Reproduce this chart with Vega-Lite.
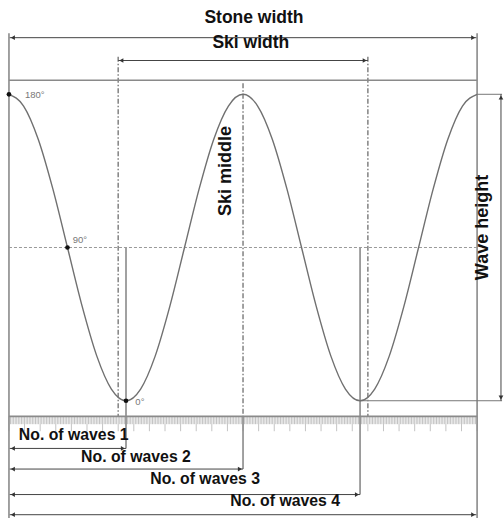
{
  "$schema": "https://vega.github.io/schema/vega-lite/v6.json",
  "width": 504,
  "height": 519,
  "autosize": {"type": "fit", "contains": "padding"},
  "padding": 0,
  "background": "white",
  "config": {"view": {"stroke": null}},
  "datasets": {
    "ruler": [
{"x":0,"y":-108,"y2":-117.5},{"x":1,"y":-108,"y2":-113},{"x":2,"y":-108,"y2":-113},{"x":3,"y":-108,"y2":-113},{"x":4,"y":-108,"y2":-113},{"x":5,"y":-108,"y2":-113},{"x":6,"y":-108,"y2":-113},{"x":7,"y":-108,"y2":-113},{"x":8,"y":-108,"y2":-113},{"x":9,"y":-108,"y2":-113},
{"x":10,"y":-108,"y2":-117.5},{"x":11,"y":-108,"y2":-113},{"x":12,"y":-108,"y2":-113},{"x":13,"y":-108,"y2":-113},{"x":14,"y":-108,"y2":-113},{"x":15,"y":-108,"y2":-113},{"x":16,"y":-108,"y2":-113},{"x":17,"y":-108,"y2":-113},{"x":18,"y":-108,"y2":-113},{"x":19,"y":-108,"y2":-113},
{"x":20,"y":-108,"y2":-117.5},{"x":21,"y":-108,"y2":-113},{"x":22,"y":-108,"y2":-113},{"x":23,"y":-108,"y2":-113},{"x":24,"y":-108,"y2":-113},{"x":25,"y":-108,"y2":-113},{"x":26,"y":-108,"y2":-113},{"x":27,"y":-108,"y2":-113},{"x":28,"y":-108,"y2":-113},{"x":29,"y":-108,"y2":-113},
{"x":30,"y":-108,"y2":-117.5},{"x":31,"y":-108,"y2":-113},{"x":32,"y":-108,"y2":-113},{"x":33,"y":-108,"y2":-113},{"x":34,"y":-108,"y2":-113},{"x":35,"y":-108,"y2":-113},{"x":36,"y":-108,"y2":-113},{"x":37,"y":-108,"y2":-113},{"x":38,"y":-108,"y2":-113},{"x":39,"y":-108,"y2":-113},
{"x":40,"y":-108,"y2":-117.5},{"x":41,"y":-108,"y2":-113},{"x":42,"y":-108,"y2":-113},{"x":43,"y":-108,"y2":-113},{"x":44,"y":-108,"y2":-113},{"x":45,"y":-108,"y2":-113},{"x":46,"y":-108,"y2":-113},{"x":47,"y":-108,"y2":-113},{"x":48,"y":-108,"y2":-113},{"x":49,"y":-108,"y2":-113},
{"x":50,"y":-108,"y2":-117.5},{"x":51,"y":-108,"y2":-113},{"x":52,"y":-108,"y2":-113},{"x":53,"y":-108,"y2":-113},{"x":54,"y":-108,"y2":-113},{"x":55,"y":-108,"y2":-113},{"x":56,"y":-108,"y2":-113},{"x":57,"y":-108,"y2":-113},{"x":58,"y":-108,"y2":-113},{"x":59,"y":-108,"y2":-113},
{"x":60,"y":-108,"y2":-117.5},{"x":61,"y":-108,"y2":-113},{"x":62,"y":-108,"y2":-113},{"x":63,"y":-108,"y2":-113},{"x":64,"y":-108,"y2":-113},{"x":65,"y":-108,"y2":-113},{"x":66,"y":-108,"y2":-113},{"x":67,"y":-108,"y2":-113},{"x":68,"y":-108,"y2":-113},{"x":69,"y":-108,"y2":-113},
{"x":70,"y":-108,"y2":-117.5},{"x":71,"y":-108,"y2":-113},{"x":72,"y":-108,"y2":-113},{"x":73,"y":-108,"y2":-113},{"x":74,"y":-108,"y2":-113},{"x":75,"y":-108,"y2":-113},{"x":76,"y":-108,"y2":-113},{"x":77,"y":-108,"y2":-113},{"x":78,"y":-108,"y2":-113},{"x":79,"y":-108,"y2":-113},
{"x":80,"y":-108,"y2":-117.5},{"x":81,"y":-108,"y2":-113},{"x":82,"y":-108,"y2":-113},{"x":83,"y":-108,"y2":-113},{"x":84,"y":-108,"y2":-113},{"x":85,"y":-108,"y2":-113},{"x":86,"y":-108,"y2":-113},{"x":87,"y":-108,"y2":-113},{"x":88,"y":-108,"y2":-113},{"x":89,"y":-108,"y2":-113},
{"x":90,"y":-108,"y2":-117.5},{"x":91,"y":-108,"y2":-113},{"x":92,"y":-108,"y2":-113},{"x":93,"y":-108,"y2":-113},{"x":94,"y":-108,"y2":-113},{"x":95,"y":-108,"y2":-113},{"x":96,"y":-108,"y2":-113},{"x":97,"y":-108,"y2":-113},{"x":98,"y":-108,"y2":-113},{"x":99,"y":-108,"y2":-113},
{"x":100,"y":-108,"y2":-117.5},{"x":101,"y":-108,"y2":-113},{"x":102,"y":-108,"y2":-113},{"x":103,"y":-108,"y2":-113},{"x":104,"y":-108,"y2":-113},{"x":105,"y":-108,"y2":-113},{"x":106,"y":-108,"y2":-113},{"x":107,"y":-108,"y2":-113},{"x":108,"y":-108,"y2":-113},{"x":109,"y":-108,"y2":-113},
{"x":110,"y":-108,"y2":-117.5},{"x":111,"y":-108,"y2":-113},{"x":112,"y":-108,"y2":-113},{"x":113,"y":-108,"y2":-113},{"x":114,"y":-108,"y2":-113},{"x":115,"y":-108,"y2":-113},{"x":116,"y":-108,"y2":-113},{"x":117,"y":-108,"y2":-113},{"x":118,"y":-108,"y2":-113},{"x":119,"y":-108,"y2":-113},
{"x":120,"y":-108,"y2":-117.5},{"x":121,"y":-108,"y2":-113},{"x":122,"y":-108,"y2":-113},{"x":123,"y":-108,"y2":-113},{"x":124,"y":-108,"y2":-113},{"x":125,"y":-108,"y2":-113},{"x":126,"y":-108,"y2":-113},{"x":127,"y":-108,"y2":-113},{"x":128,"y":-108,"y2":-113},{"x":129,"y":-108,"y2":-113},
{"x":130,"y":-108,"y2":-117.5},{"x":131,"y":-108,"y2":-113},{"x":132,"y":-108,"y2":-113},{"x":133,"y":-108,"y2":-113},{"x":134,"y":-108,"y2":-113},{"x":135,"y":-108,"y2":-113},{"x":136,"y":-108,"y2":-113},{"x":137,"y":-108,"y2":-113},{"x":138,"y":-108,"y2":-113},{"x":139,"y":-108,"y2":-113},
{"x":140,"y":-108,"y2":-117.5},{"x":141,"y":-108,"y2":-113},{"x":142,"y":-108,"y2":-113},{"x":143,"y":-108,"y2":-113},{"x":144,"y":-108,"y2":-113},{"x":145,"y":-108,"y2":-113},{"x":146,"y":-108,"y2":-113},{"x":147,"y":-108,"y2":-113},{"x":148,"y":-108,"y2":-113},{"x":149,"y":-108,"y2":-113},
{"x":150,"y":-108,"y2":-117.5},{"x":151,"y":-108,"y2":-113},{"x":152,"y":-108,"y2":-113},{"x":153,"y":-108,"y2":-113},{"x":154,"y":-108,"y2":-113},{"x":155,"y":-108,"y2":-113},{"x":156,"y":-108,"y2":-113},{"x":157,"y":-108,"y2":-113},{"x":158,"y":-108,"y2":-113},{"x":159,"y":-108,"y2":-113},
{"x":160,"y":-108,"y2":-117.5},{"x":161,"y":-108,"y2":-113},{"x":162,"y":-108,"y2":-113},{"x":163,"y":-108,"y2":-113},{"x":164,"y":-108,"y2":-113},{"x":165,"y":-108,"y2":-113},{"x":166,"y":-108,"y2":-113},{"x":167,"y":-108,"y2":-113},{"x":168,"y":-108,"y2":-113},{"x":169,"y":-108,"y2":-113},
{"x":170,"y":-108,"y2":-117.5},{"x":171,"y":-108,"y2":-113},{"x":172,"y":-108,"y2":-113},{"x":173,"y":-108,"y2":-113},{"x":174,"y":-108,"y2":-113},{"x":175,"y":-108,"y2":-113},{"x":176,"y":-108,"y2":-113},{"x":177,"y":-108,"y2":-113},{"x":178,"y":-108,"y2":-113},{"x":179,"y":-108,"y2":-113},
{"x":180,"y":-108,"y2":-117.5},{"x":181,"y":-108,"y2":-113},{"x":182,"y":-108,"y2":-113},{"x":183,"y":-108,"y2":-113},{"x":184,"y":-108,"y2":-113},{"x":185,"y":-108,"y2":-113},{"x":186,"y":-108,"y2":-113},{"x":187,"y":-108,"y2":-113},{"x":188,"y":-108,"y2":-113},{"x":189,"y":-108,"y2":-113},
{"x":190,"y":-108,"y2":-117.5},{"x":191,"y":-108,"y2":-113},{"x":192,"y":-108,"y2":-113},{"x":193,"y":-108,"y2":-113},{"x":194,"y":-108,"y2":-113},{"x":195,"y":-108,"y2":-113},{"x":196,"y":-108,"y2":-113},{"x":197,"y":-108,"y2":-113},{"x":198,"y":-108,"y2":-113},{"x":199,"y":-108,"y2":-113},
{"x":200,"y":-108,"y2":-117.5},{"x":201,"y":-108,"y2":-113},{"x":202,"y":-108,"y2":-113},{"x":203,"y":-108,"y2":-113},{"x":204,"y":-108,"y2":-113},{"x":205,"y":-108,"y2":-113},{"x":206,"y":-108,"y2":-113},{"x":207,"y":-108,"y2":-113},{"x":208,"y":-108,"y2":-113},{"x":209,"y":-108,"y2":-113},
{"x":210,"y":-108,"y2":-117.5},{"x":211,"y":-108,"y2":-113},{"x":212,"y":-108,"y2":-113},{"x":213,"y":-108,"y2":-113},{"x":214,"y":-108,"y2":-113},{"x":215,"y":-108,"y2":-113},{"x":216,"y":-108,"y2":-113},{"x":217,"y":-108,"y2":-113},{"x":218,"y":-108,"y2":-113},{"x":219,"y":-108,"y2":-113},
{"x":220,"y":-108,"y2":-117.5},{"x":221,"y":-108,"y2":-113},{"x":222,"y":-108,"y2":-113},{"x":223,"y":-108,"y2":-113},{"x":224,"y":-108,"y2":-113},{"x":225,"y":-108,"y2":-113},{"x":226,"y":-108,"y2":-113},{"x":227,"y":-108,"y2":-113},{"x":228,"y":-108,"y2":-113},{"x":229,"y":-108,"y2":-113},
{"x":230,"y":-108,"y2":-117.5},{"x":231,"y":-108,"y2":-113},{"x":232,"y":-108,"y2":-113},{"x":233,"y":-108,"y2":-113},{"x":234,"y":-108,"y2":-113},{"x":235,"y":-108,"y2":-113},{"x":236,"y":-108,"y2":-113},{"x":237,"y":-108,"y2":-113},{"x":238,"y":-108,"y2":-113},{"x":239,"y":-108,"y2":-113},
{"x":240,"y":-108,"y2":-117.5},{"x":241,"y":-108,"y2":-113},{"x":242,"y":-108,"y2":-113},{"x":243,"y":-108,"y2":-113},{"x":244,"y":-108,"y2":-113},{"x":245,"y":-108,"y2":-113},{"x":246,"y":-108,"y2":-113},{"x":247,"y":-108,"y2":-113},{"x":248,"y":-108,"y2":-113},{"x":249,"y":-108,"y2":-113},
{"x":250,"y":-108,"y2":-117.5},{"x":251,"y":-108,"y2":-113},{"x":252,"y":-108,"y2":-113},{"x":253,"y":-108,"y2":-113},{"x":254,"y":-108,"y2":-113},{"x":255,"y":-108,"y2":-113},{"x":256,"y":-108,"y2":-113},{"x":257,"y":-108,"y2":-113},{"x":258,"y":-108,"y2":-113},{"x":259,"y":-108,"y2":-113},
{"x":260,"y":-108,"y2":-117.5},{"x":261,"y":-108,"y2":-113},{"x":262,"y":-108,"y2":-113},{"x":263,"y":-108,"y2":-113},{"x":264,"y":-108,"y2":-113},{"x":265,"y":-108,"y2":-113},{"x":266,"y":-108,"y2":-113},{"x":267,"y":-108,"y2":-113},{"x":268,"y":-108,"y2":-113},{"x":269,"y":-108,"y2":-113},
{"x":270,"y":-108,"y2":-117.5},{"x":271,"y":-108,"y2":-113},{"x":272,"y":-108,"y2":-113},{"x":273,"y":-108,"y2":-113},{"x":274,"y":-108,"y2":-113},{"x":275,"y":-108,"y2":-113},{"x":276,"y":-108,"y2":-113},{"x":277,"y":-108,"y2":-113},{"x":278,"y":-108,"y2":-113},{"x":279,"y":-108,"y2":-113},
{"x":280,"y":-108,"y2":-117.5},{"x":281,"y":-108,"y2":-113},{"x":282,"y":-108,"y2":-113},{"x":283,"y":-108,"y2":-113},{"x":284,"y":-108,"y2":-113},{"x":285,"y":-108,"y2":-113},{"x":286,"y":-108,"y2":-113},{"x":287,"y":-108,"y2":-113},{"x":288,"y":-108,"y2":-113},{"x":289,"y":-108,"y2":-113},
{"x":290,"y":-108,"y2":-117.5},{"x":291,"y":-108,"y2":-113},{"x":292,"y":-108,"y2":-113},{"x":293,"y":-108,"y2":-113},{"x":294,"y":-108,"y2":-113},{"x":295,"y":-108,"y2":-113},{"x":296,"y":-108,"y2":-113},{"x":297,"y":-108,"y2":-113},{"x":298,"y":-108,"y2":-113},{"x":299,"y":-108,"y2":-113},
{"x":300,"y":-108,"y2":-117.5}
    ],
    "wave": [
      {"x": 0, "y": 98}, {"x": 9.375, "y": 90.5}, {"x": 18.75, "y": 69.3}, {"x": 28.125, "y": 37.5},
      {"x": 37.5, "y": 0}, {"x": 46.875, "y": -37.5}, {"x": 56.25, "y": -69.3}, {"x": 65.625, "y": -90.5},
      {"x": 75, "y": -98}, {"x": 84.375, "y": -90.5}, {"x": 93.75, "y": -69.3}, {"x": 103.125, "y": -37.5},
      {"x": 112.5, "y": 0}, {"x": 121.875, "y": 37.5}, {"x": 131.25, "y": 69.3}, {"x": 140.625, "y": 90.5},
      {"x": 150, "y": 98}, {"x": 159.375, "y": 90.5}, {"x": 168.75, "y": 69.3}, {"x": 178.125, "y": 37.5},
      {"x": 187.5, "y": 0}, {"x": 196.875, "y": -37.5}, {"x": 206.25, "y": -69.3}, {"x": 215.625, "y": -90.5},
      {"x": 225, "y": -98}, {"x": 234.375, "y": -90.5}, {"x": 243.75, "y": -69.3}, {"x": 253.125, "y": -37.5},
      {"x": 262.5, "y": 0}, {"x": 271.875, "y": 37.5}, {"x": 281.25, "y": 69.3}, {"x": 290.625, "y": 90.5},
      {"x": 300, "y": 98}
    ],
    "lines": [
      {"kind": "edge", "x": 0, "x2": 0, "y": 137, "y2": -173},
      {"kind": "edge", "x": 300, "x2": 300, "y": 137, "y2": -173},
      {"kind": "edge", "x": 0, "x2": 300, "y": 107, "y2": 107},
      {"kind": "edge", "x": 0, "x2": 300, "y": -108, "y2": -108},
      {"kind": "edge", "x": 75, "x2": 75, "y": 0, "y2": -128.5},
      {"kind": "edge", "x": 150, "x2": 150, "y": -108, "y2": -141.7},
      {"kind": "edge", "x": 225, "x2": 225, "y": 0, "y2": -158},
      {"kind": "guide", "x": 300, "x2": 316, "y": 98, "y2": 98},
      {"kind": "guide", "x": 225, "x2": 316, "y": -98, "y2": -98},
      {"kind": "dashdot", "x": 70, "x2": 70, "y": 122, "y2": -108},
      {"kind": "dashdot", "x": 230, "x2": 230, "y": 122, "y2": -108},
      {"kind": "dashdot", "x": 150, "x2": 150, "y": 105, "y2": -108},
      {"kind": "dashed", "x": 0, "x2": 300, "y": 0, "y2": 0},
      {"kind": "arrow", "x": 0.5, "x2": 299.5, "y": 134.2, "y2": 134.2},
      {"kind": "arrow", "x": 70, "x2": 230, "y": 119.6, "y2": 119.6},
      {"kind": "arrow", "x": 315.3, "x2": 315.3, "y": 98, "y2": -98},
      {"kind": "arrow", "x": 0.5, "x2": 75, "y": -128.5, "y2": -128.5},
      {"kind": "arrow", "x": 0.5, "x2": 150, "y": -141.7, "y2": -141.7},
      {"kind": "arrow", "x": 0.5, "x2": 225, "y": -158, "y2": -158},
      {"kind": "arrow", "x": 0.5, "x2": 299.5, "y": -170.9, "y2": -170.9}
    ],
    "heads": [
      {"dir": "left", "x": 2.5, "y": 134.2}, {"dir": "right", "x": 297.5, "y": 134.2},
      {"dir": "left", "x": 72, "y": 119.6}, {"dir": "right", "x": 228, "y": 119.6},
      {"dir": "up", "x": 315.3, "y": 96}, {"dir": "down", "x": 315.3, "y": -96},
      {"dir": "left", "x": 2.5, "y": -128.5}, {"dir": "right", "x": 73, "y": -128.5},
      {"dir": "left", "x": 2.5, "y": -141.7}, {"dir": "right", "x": 148, "y": -141.7},
      {"dir": "left", "x": 2.5, "y": -158}, {"dir": "right", "x": 223, "y": -158},
      {"dir": "left", "x": 2.5, "y": -170.9}, {"dir": "right", "x": 297.5, "y": -170.9}
    ],
    "dots": [{"x": 0, "y": 98}, {"x": 37.5, "y": 0}, {"x": 75, "y": -98}],
    "labels": [
      {"x": 157, "y": 146.6, "label": "Stone width", "size": "big"},
      {"x": 155, "y": 130.7, "label": "Ski width", "size": "big"},
      {"x": 41.5, "y": -120, "label": "No. of waves 1", "size": "small"},
      {"x": 81.4, "y": -134.2, "label": "No. of waves 2", "size": "small"},
      {"x": 125.7, "y": -148, "label": "No. of waves 3", "size": "small"},
      {"x": 177, "y": -162.3, "label": "No. of waves 4", "size": "small"}
    ],
    "vlabels": [
      {"x": 139, "y": 49, "label": "Ski middle"},
      {"x": 303.8, "y": 12.8, "label": "Wave height"}
    ],
    "degrees": [
      {"x": 10.2, "y": 97.5, "label": "180°"},
      {"x": 40.8, "y": 4.5, "label": "90°"},
      {"x": 81, "y": -98.7, "label": "0°"}
    ]
  },
  "encoding": {
    "x": {"field": "x", "type": "quantitative", "axis": null, "scale": {"domain": [-5.745, 315.96], "nice": false, "zero": false}},
    "y": {"field": "y", "type": "quantitative", "axis": null, "scale": {"domain": [-173.0, 158.3], "nice": false, "zero": false}}
  },
  "layer": [
    {
      "data": {"name": "ruler"},
      "mark": {"type": "rule", "color": "#c4c4c4", "strokeWidth": 1},
      "encoding": {"y2": {"field": "y2"}}
    },
    {
      "data": {"name": "lines"},
      "transform": [{"filter": "datum.kind == 'edge'"}],
      "mark": {"type": "rule", "color": "#8a8a8a", "strokeWidth": 1.6},
      "encoding": {"x2": {"field": "x2"}, "y2": {"field": "y2"}}
    },
    {
      "data": {"name": "lines"},
      "transform": [{"filter": "datum.kind == 'guide'"}],
      "mark": {"type": "rule", "color": "#777777", "strokeWidth": 1},
      "encoding": {"x2": {"field": "x2"}, "y2": {"field": "y2"}}
    },
    {
      "data": {"name": "lines"},
      "transform": [{"filter": "datum.kind == 'dashdot'"}],
      "mark": {"type": "rule", "color": "#8a8a8a", "strokeWidth": 1.6, "strokeDash": [5, 2, 1.5, 2]},
      "encoding": {"x2": {"field": "x2"}, "y2": {"field": "y2"}}
    },
    {
      "data": {"name": "lines"},
      "transform": [{"filter": "datum.kind == 'dashed'"}],
      "mark": {"type": "rule", "color": "#9a9a9a", "strokeWidth": 1.2, "strokeDash": [3, 2]},
      "encoding": {"x2": {"field": "x2"}, "y2": {"field": "y2"}}
    },
    {
      "data": {"name": "wave"},
      "mark": {"type": "line", "color": "#707070", "strokeWidth": 1.4, "interpolate": "monotone"},
      "encoding": {}
    },
    {
      "data": {"name": "lines"},
      "transform": [{"filter": "datum.kind == 'arrow'"}],
      "mark": {"type": "rule", "color": "#444444", "strokeWidth": 1},
      "encoding": {"x2": {"field": "x2"}, "y2": {"field": "y2"}}
    },
    {
      "data": {"name": "heads"},
      "mark": {"type": "point", "filled": true, "color": "#333333", "size": 22, "opacity": 1},
      "encoding": {
        "shape": {"field": "dir", "type": "nominal", "legend": null,
          "scale": {"domain": ["left", "right", "up", "down"], "range": ["triangle-left", "triangle-right", "triangle-up", "triangle-down"]}}
      }
    },
    {
      "data": {"name": "dots"},
      "mark": {"type": "point", "filled": true, "color": "#111111", "size": 22, "opacity": 1},
      "encoding": {}
    },
    {
      "data": {"name": "labels"},
      "transform": [{"filter": "datum.size == 'big'"}],
      "mark": {"type": "text", "font": "Liberation Sans", "fontWeight": "bold", "fontSize": 17.5, "color": "#111111", "align": "center", "baseline": "middle"},
      "encoding": {"text": {"field": "label"}}
    },
    {
      "data": {"name": "labels"},
      "transform": [{"filter": "datum.size == 'small'"}],
      "mark": {"type": "text", "font": "Liberation Sans", "fontWeight": "bold", "fontSize": 15.8, "color": "#111111", "align": "center", "baseline": "middle"},
      "encoding": {"text": {"field": "label"}}
    },
    {
      "data": {"name": "vlabels"},
      "mark": {"type": "text", "font": "Liberation Sans", "fontWeight": "bold", "fontSize": 18, "color": "#111111", "align": "center", "baseline": "middle", "angle": 270},
      "encoding": {"text": {"field": "label"}}
    },
    {
      "data": {"name": "degrees"},
      "mark": {"type": "text", "font": "Liberation Sans", "fontSize": 9.5, "color": "#777777", "align": "left", "baseline": "middle"},
      "encoding": {"text": {"field": "label"}}
    }
  ]
}
